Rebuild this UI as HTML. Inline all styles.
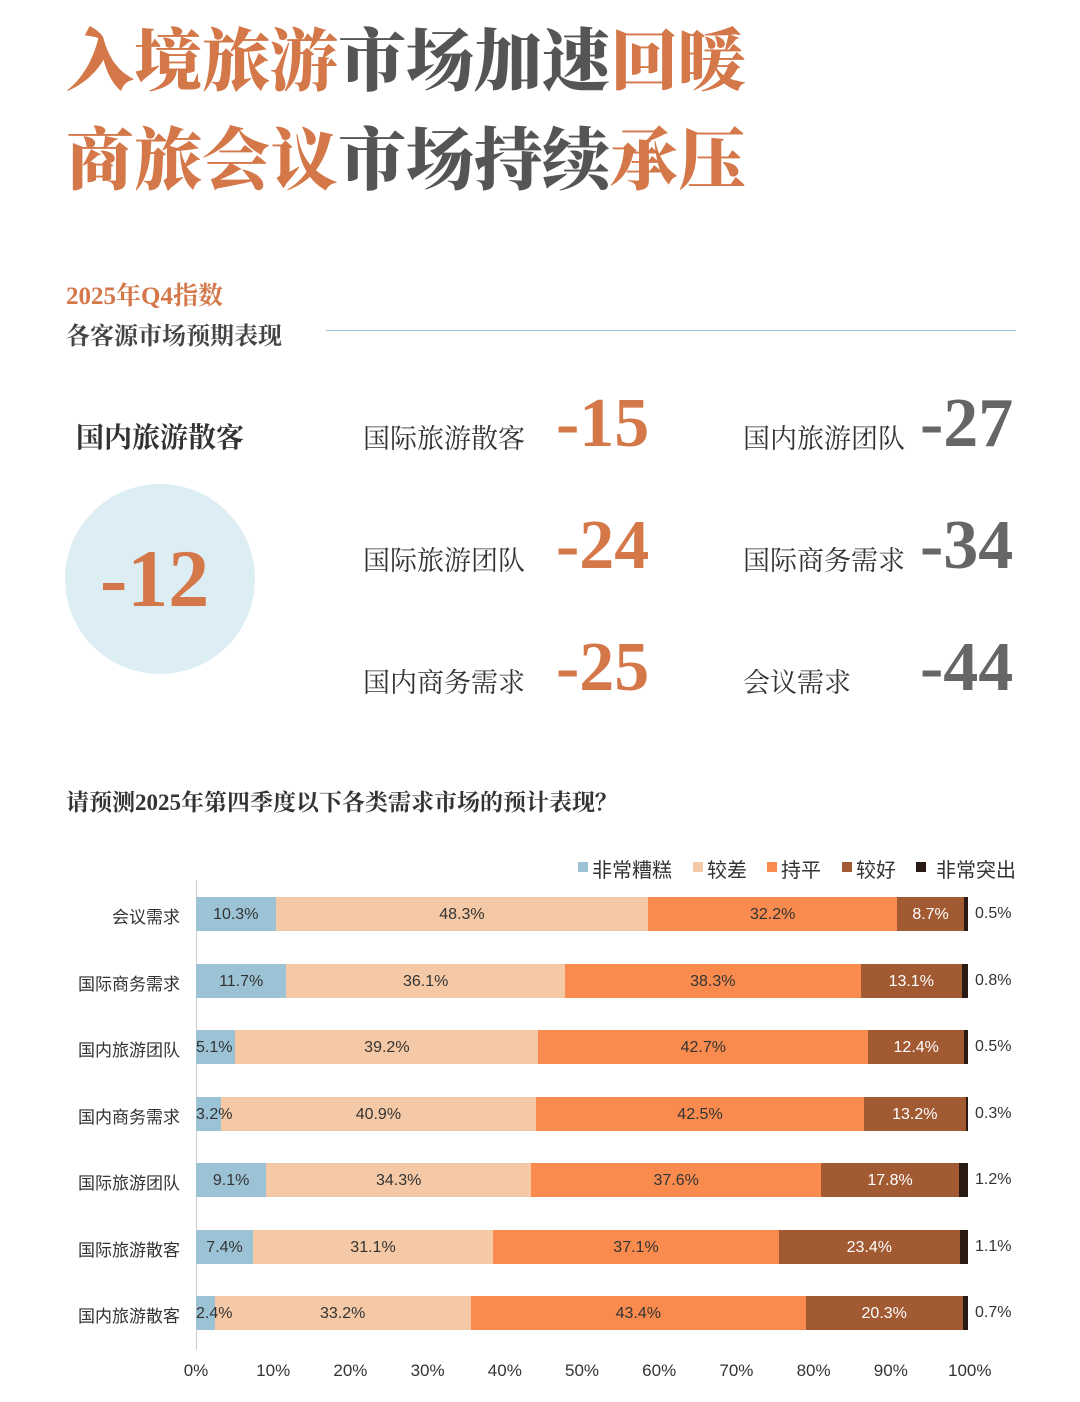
<!DOCTYPE html>
<html><head><meta charset="utf-8"><style>
body{margin:0;width:1080px;height:1402px;background:#fff;position:relative;overflow:hidden;font-family:"Liberation Serif","Noto Serif CJK SC",serif}
.a{position:absolute;white-space:nowrap}
.t{font-size:68px;font-weight:900;letter-spacing:0px;line-height:1}
.o{color:#d4784a}.g{color:#555}
.lab{font-size:27px;color:#333;font-family:"Liberation Serif","Noto Serif CJK SC",serif}
.num{font-size:70px;font-weight:bold;line-height:1}
.sans{font-family:"Liberation Sans","Noto Sans CJK SC",sans-serif}
.seg{position:absolute;height:34px;font-size:16px;color:#333;text-align:center;line-height:36px;white-space:nowrap;font-family:"Liberation Sans","Noto Sans CJK SC",sans-serif}
.rl{position:absolute;right:900px;font-size:17px;color:#333;white-space:nowrap;font-family:"Liberation Sans","Noto Sans CJK SC",sans-serif}
.lg{position:absolute;top:854px;font-size:20px;color:#333;white-space:nowrap;font-family:"Liberation Sans","Noto Sans CJK SC",sans-serif}
.sq{position:absolute;top:862px;width:10px;height:10px}
</style></head><body>
<div class="a t" style="left:66px;top:28px"><span class="o">入境旅游</span><span class="g">市场加速</span><span class="o">回暖</span></div>
<div class="a t" style="left:66px;top:127px"><span class="o">商旅会议</span><span class="g">市场持续</span><span class="o">承压</span></div>
<div class="a o" style="left:66px;top:276px;font-size:25px;font-weight:bold">2025年Q4指数</div>
<div class="a" style="left:66px;top:316px;font-size:24px;font-weight:bold;color:#444">各客源市场预期表现</div>
<div class="a" style="left:326px;top:330px;width:690px;height:1px;background:#9cc8dc"></div>
<div class="a" style="left:76px;top:416px;font-size:28px;font-weight:bold;color:#333">国内旅游散客</div>
<div class="a" style="left:65px;top:484px;width:190px;height:190px;border-radius:50%;background:#dcedf3"></div>
<div class="a o num" style="left:100px;top:538px;font-size:82px">-12</div>
<div class="a lab" style="left:363px;top:417px">国际旅游散客</div><div class="a o num" style="left:556px;top:389px">-15</div>
<div class="a lab" style="left:363px;top:539px">国际旅游团队</div><div class="a o num" style="left:556px;top:511px">-24</div>
<div class="a lab" style="left:363px;top:661px">国内商务需求</div><div class="a o num" style="left:556px;top:633px">-25</div>
<div class="a lab" style="left:743px;top:417px">国内旅游团队</div><div class="a g num" style="left:920px;top:389px;color:#666">-27</div>
<div class="a lab" style="left:743px;top:539px">国际商务需求</div><div class="a g num" style="left:920px;top:511px;color:#666">-34</div>
<div class="a lab" style="left:743px;top:661px">会议需求</div><div class="a g num" style="left:920px;top:633px;color:#666">-44</div>
<div class="a" style="left:66px;top:784px;font-size:23px;font-weight:bold;color:#333">请预测2025年第四季度以下各类需求市场的预计表现？</div>
<div class="sq" style="left:578px;background:#9cc3d5"></div><div class="lg" style="left:592px">非常糟糕</div>
<div class="sq" style="left:693px;background:#f5c9a5"></div><div class="lg" style="left:707px">较差</div>
<div class="sq" style="left:767px;background:#f98b4e"></div><div class="lg" style="left:781px">持平</div>
<div class="sq" style="left:842px;background:#a25a32"></div><div class="lg" style="left:856px">较好</div>
<div class="sq" style="left:916px;background:#2a1a14"></div><div class="lg" style="left:936px">非常突出</div>
<div class="a" style="left:196px;top:880px;width:1px;height:470px;background:#ccc"></div>
<div id="c"></div>
<script>
var rows=[["会议需求",[10.3,48.3,32.2,8.7,0.5]],["国际商务需求",[11.7,36.1,38.3,13.1,0.8]],["国内旅游团队",[5.1,39.2,42.7,12.4,0.5]],["国内商务需求",[3.2,40.9,42.5,13.2,0.3]],["国际旅游团队",[9.1,34.3,37.6,17.8,1.2]],["国际旅游散客",[7.4,31.1,37.1,23.4,1.1]],["国内旅游散客",[2.4,33.2,43.4,20.3,0.7]]];
var col=["#9cc3d5","#f5c9a5","#f98b4e","#a25a32","#2a1a14"];
var h="",x0=196,w=772;
rows.forEach(function(r,i){var y=897+i*66.5;h+='<div class="rl" style="top:'+(y+6)+'px">'+r[0]+'</div>';
var s=r[1].reduce(function(a,b){return a+b},0),x=x0;
r[1].forEach(function(v,j){var ww=v/s*w;var c=j==3?'#fff':'#333';
var txt=j<4?(ww<45?'<span style="position:absolute;left:0;z-index:2">'+v+'%</span>':v+'%'):'';
h+='<div class="seg" style="left:'+x+'px;top:'+y+'px;width:'+ww+'px;background:'+col[j]+';color:'+c+'">'+txt+'</div>';x+=ww;});
h+='<div class="a sans" style="left:975px;top:'+(y+8)+'px;font-size:16px;color:#333">'+r[1][4]+'%</div>';});
for(var k=0;k<=10;k++){h+='<div class="a sans" style="left:'+(x0+k*w/10-20)+'px;width:40px;text-align:center;top:1361px;font-size:17px;color:#333">'+k*10+'%</div>';}
document.getElementById("c").innerHTML=h;
</script>
</body></html>
